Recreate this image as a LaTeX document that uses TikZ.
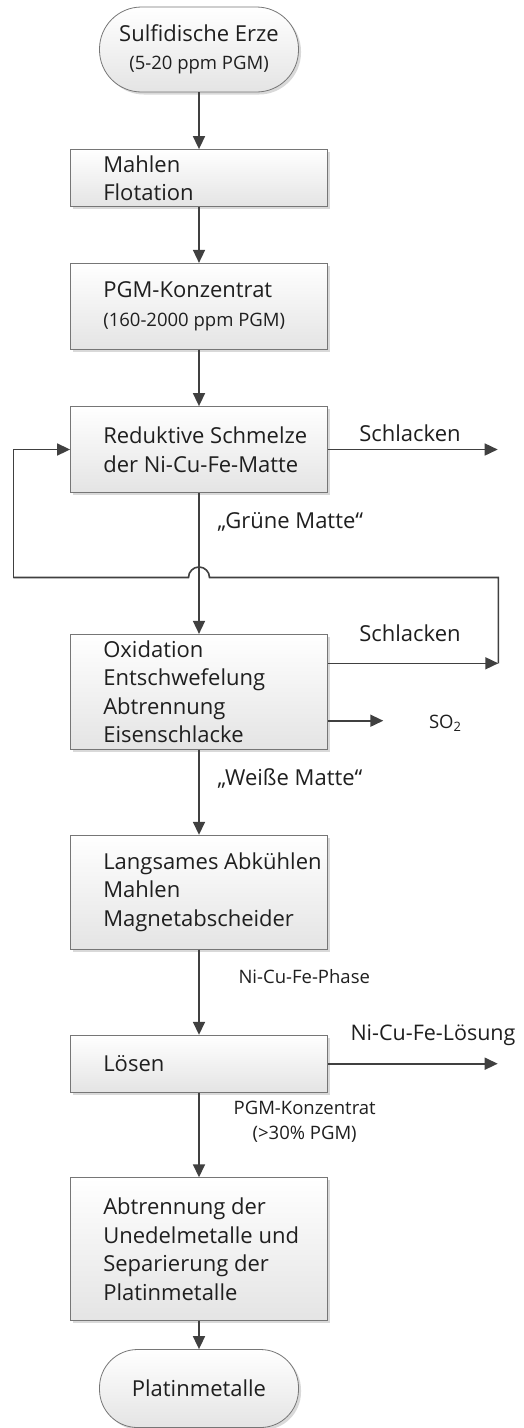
\documentclass[tikz,border=0pt]{standalone}
\usepackage{fontspec}
\setmainfont{Open Sans}
\usetikzlibrary{arrows.meta, shadows}

\definecolor{linegray}{HTML}{404040}
\definecolor{framegray}{HTML}{767676}
\definecolor{fillgray}{HTML}{E4E4E4}
\newcommand{\klein}{\fontsize{18.5}{25}\selectfont}

\begin{document}
\begin{tikzpicture}[x=1pt, y=-1pt,
    every node/.style={font=\fontsize{22}{28.5}\selectfont, text=black!88},
    stepbox/.style={rectangle, draw=framegray, line width=0.8pt,
        top color=white, bottom color=fillgray, minimum width=257pt,
        drop shadow={shadow xshift=2.5pt, shadow yshift=-2.5pt, fill=black!15, opacity=1}},
    terminal/.style={stepbox, minimum width=199pt, align=center},
    steptext/.style={anchor=west, xshift=33pt, align=left, inner sep=0pt},
    flow/.style={draw=linegray, line width=1.6pt, -{Triangle[length=13pt, width=12pt]}},
    loop/.style={draw=linegray, line width=1.6pt}]

    % Background
    \fill[white] (0,0) rectangle (523,1428);

    % Main chain
    \node[terminal, minimum height=85pt, rounded corners=42pt] (erz) at (199,49.5)
        {Sulfidische Erze\\{\klein (5-20 ppm PGM)}};
    \node[stepbox, minimum height=57pt, label={[steptext]west:Mahlen\\Flotation}] (mahlen) at (199,178) {};
    \node[stepbox, minimum height=86pt,
        label={[steptext]west:PGM-Konzentrat\\{\klein (160-2000 ppm PGM)}}] (konz) at (199,306.3) {};
    \node[stepbox, minimum height=86pt,
        label={[steptext]west:Reduktive Schmelze\\der Ni-Cu-Fe-Matte}] (schmelze) at (199,449.5) {};
    \node[stepbox, minimum height=115pt,
        label={[steptext]west:Oxidation\\Entschwefelung\\Abtrennung\\Eisenschlacke}] (oxid) at (199,691.8) {};
    \node[stepbox, minimum height=114pt,
        label={[steptext]west:Langsames Abkühlen\\Mahlen\\Magnetabscheider}] (kuehlen) at (199,892.2) {};
    \node[stepbox, minimum height=57pt, label={[steptext]west:Lösen}] (loesen) at (199,1063.7) {};
    \node[stepbox, minimum height=143pt,
        label={[steptext]west:Abtrennung der\\Unedelmetalle und\\Separierung der\\Platinmetalle}] (trennung) at (199,1249.2) {};
    \node[terminal, minimum height=78pt, rounded corners=38pt] (pgm) at (199,1388.5) {Platinmetalle};

    \draw[flow] (erz.south) -- (mahlen.north);
    \draw[flow] (mahlen.south) -- (konz.north);
    \draw[flow] (konz.south) -- (schmelze.north);
    \draw[flow] (schmelze.south) -- (oxid.north);
    \draw[flow] (oxid.south) -- (kuehlen.north);
    \draw[flow] (kuehlen.south) -- (loesen.north);
    \draw[flow] (loesen.south) -- (trennung.north);
    \draw[flow] (trennung.south) -- (pgm.north);

    % Streams between the steps
    \node[anchor=base west] (gruen) at (214,528.3) {„Grüne Matte“};
    \node[anchor=base west] (weiss) at (214,785) {„Weiße Matte“};
    \node[anchor=base west, font=\klein] (phase) at (235,983.3) {Ni-Cu-Fe-Phase};
    \node[font=\klein, align=center] (rest) at (304.7,1121.5) {PGM-Konzentrat\\(>30\% PGM)};

    % Side streams
    \coordinate (aus1) at (497.7,449.5);
    \coordinate (aus2) at (498.3,663.3);
    \coordinate (aus3) at (383.3,720.7);
    \coordinate (aus4) at (497.7,1063.7);
    \draw[flow] (schmelze.east) -- (aus1);
    \draw[flow] ([yshift=28.5pt]oxid.east) -- (aus2);
    \draw[flow] ([yshift=-28.9pt]oxid.east) -- (aus3);
    \draw[flow] (loesen.east) -- (aus4);
    \node[anchor=base] (schl1) at (410,441.7) {Schlacken};
    \node[anchor=base] (schl2) at (410,641.7) {Schlacken};
    \node[anchor=base west, font=\klein] (so2) at (425.5,728) {SO\textsubscript{2}};
    \node[anchor=base west, font=\fontsize{21.5}{25}\selectfont] (loesung) at (347,1040) {Ni-Cu-Fe-Lösung};

    % Return of the slag
    \coordinate (eckR) at (498.3,577.5);
    \coordinate (hopR) at (209.5,577.5);
    \coordinate (eckL) at (13.3,577.5);
    \draw[loop] (aus2) -- (eckR) -- (hopR) arc[start angle=0, end angle=180, radius=10.5pt] -- (eckL);
    \draw[flow] (eckL) |- (schmelze.west);
\end{tikzpicture}
\end{document}
